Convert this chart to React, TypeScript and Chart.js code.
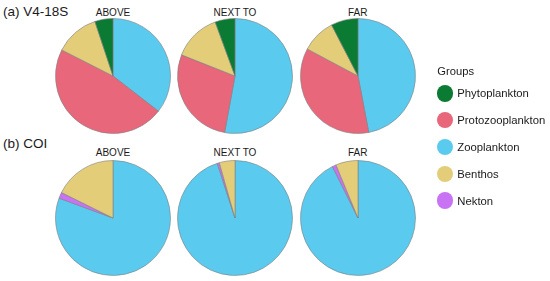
import React, { useEffect, useRef } from "react";
import { Chart, registerables } from "chart.js";

Chart.register(...registerables);

// Draw order (clockwise from 12 o'clock)
const groups = ["Zooplankton", "Protozooplankton", "Nekton", "Benthos", "Phytoplankton"];
const groupColors = ["#5ACBEF", "#E8677B", "#C873F4", "#E3CD79", "#0B7A32"];

// Legend order
const legendGroups = ["Phytoplankton", "Protozooplankton", "Zooplankton", "Benthos", "Nekton"];

const columns = ["ABOVE", "NEXT TO", "FAR"];
const rows = ["(a) V4-18S", "(b) COI"];

// values in % per group (order = groups)
const v4Above = [35.5, 47.0, 0, 12.4, 5.1];
const v4Next = [52.9, 28.1, 0, 13.4, 5.6];
const v4Far = [47.0, 35.8, 0, 9.6, 7.6];
const coiAbove = [80.6, 0, 1.7, 17.7, 0];
const coiNext = [95.0, 0, 0.6, 4.4, 0];
const coiFar = [92.65, 0, 1.1, 6.25, 0];

const rowData = [
  [v4Above, v4Next, v4Far],
  [coiAbove, coiNext, coiFar],
];

const FONT = '"Liberation Sans", Arial, sans-serif';
const colX = [113, 235, 357.7];
const rowY = [76, 218];
const R = 57.5;
const SIZE = 130;

function Pie({ values, cx, cy }: { values: number[]; cx: number; cy: number }) {
  const ref = useRef<HTMLCanvasElement | null>(null);
  useEffect(() => {
    if (!ref.current) return;
    const chart = new Chart(ref.current, {
      type: "pie",
      data: {
        labels: groups,
        datasets: [
          {
            data: values,
            backgroundColor: groupColors,
            borderColor: "#808080",
            borderWidth: 0.6,
          },
        ],
      },
      options: {
        responsive: false,
        animation: false,
        radius: R,
        layout: { padding: 0 },
        plugins: { legend: { display: false }, tooltip: { enabled: false } },
      },
    });
    return () => chart.destroy();
  }, [values]);
  return (
    <canvas
      ref={ref}
      width={SIZE}
      height={SIZE}
      style={{ position: "absolute", left: cx - SIZE / 2, top: cy - SIZE / 2, width: SIZE, height: SIZE }}
    />
  );
}

export default function App() {
  return (
    <div
      style={{
        position: "absolute",
        left: 0,
        top: 0,
        width: 550,
        height: 281,
        background: "#fff",
        fontFamily: FONT,
        color: "#1a1a1a",
        overflow: "hidden",
      }}
    >
      {rows.map((r, ri) => (
        <div
          key={r}
          style={{
            position: "absolute",
            left: 3,
            top: ri === 0 ? 11 : 143,
            transform: "translateY(-50%)",
            fontSize: 13.5,
            whiteSpace: "nowrap",
          }}
        >
          {r}
        </div>
      ))}
      {rows.map((r, ri) =>
        columns.map((c, ci) => (
          <div
            key={r + c}
            style={{
              position: "absolute",
              left: colX[ci],
              top: ri === 0 ? 11.7 : 152,
              transform: "translate(-50%, -50%)",
              fontSize: 10,
              whiteSpace: "nowrap",
            }}
          >
            {c}
          </div>
        ))
      )}
      {rowData.map((row, ri) =>
        row.map((vals, ci) => <Pie key={ri + "-" + ci} values={vals} cx={colX[ci]} cy={rowY[ri]} />)
      )}
      <div
        style={{
          position: "absolute",
          left: 437.3,
          top: 70.7,
          transform: "translateY(-50%)",
          fontSize: 11.2,
          whiteSpace: "nowrap",
        }}
      >
        Groups
      </div>
      {legendGroups.map((g, i) => {
        const y = 93.3 + i * 26.85;
        const color = groupColors[groups.indexOf(g)];
        return (
          <React.Fragment key={g}>
            <div
              style={{
                position: "absolute",
                left: 445 - 8.3,
                top: y - 8.3,
                width: 16.6,
                height: 16.6,
                borderRadius: "50%",
                background: color,
              }}
            />
            <div
              style={{
                position: "absolute",
                left: 457.3,
                top: y,
                transform: "translateY(-50%)",
                fontSize: 11.3,
                whiteSpace: "nowrap",
              }}
            >
              {g}
            </div>
          </React.Fragment>
        );
      })}
    </div>
  );
}
